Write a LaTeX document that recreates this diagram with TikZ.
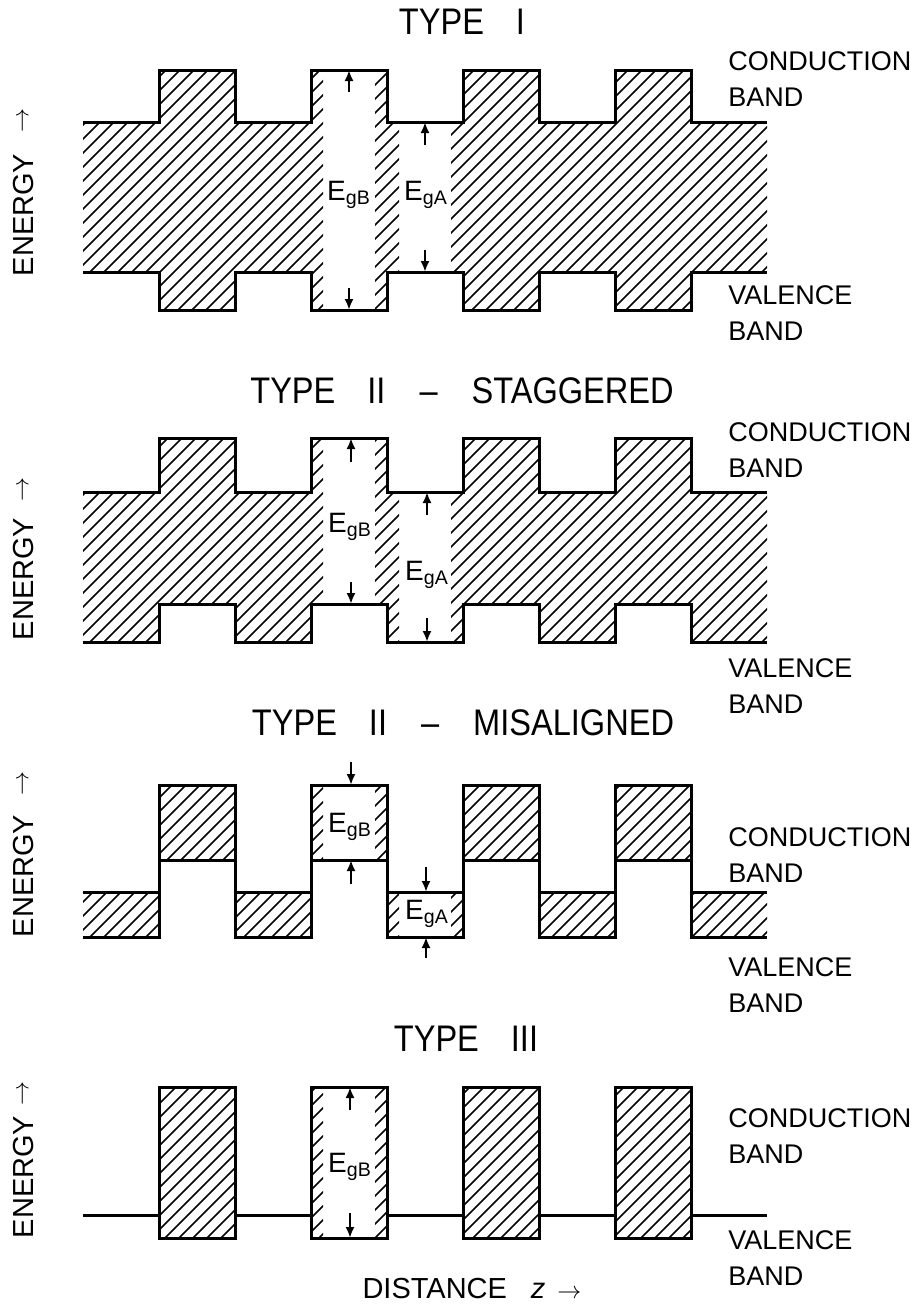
\documentclass[tikz,border=0pt]{standalone}
\usepackage{fontspec}
\setmainfont{Liberation Sans}
\newfontfamily\titlefont[FakeStretch=0.88]{Liberation Sans}
\usetikzlibrary{arrows.meta}

% one band diagram: #1 CB in A, #2 CB in B, #3 VB in A, #4 VB in B
\newcommand{\bandpanel}[4]{%
  \begin{scope}
    \clip (83,#1) rectangle (159,#3) (159,#2) rectangle (235,#4)
      (235,#1) rectangle (311,#3)
      (311,#2) rectangle (323,#4) (375,#2) rectangle (387,#4)
      (387,#1) rectangle (399,#3) (451,#1) rectangle (463,#3)
      (463,#2) rectangle (539,#4) (539,#1) rectangle (615,#3)
      (615,#2) rectangle (691,#4) (691,#1) rectangle (767,#3);
    \foreach \k in {0,...,80}
      \draw[hatchline] (-300+14*\k,#3+40) -- ++(300,-300);
  \end{scope}
  \draw[bandedge] (83,#1) -| (159,#2) -| (235,#1) -| (311,#2) -| (387,#1)
    -| (463,#2) -| (539,#1) -| (615,#2) -| (691,#1) -- (767,#1);
  \draw[bandedge] (83,#3) -| (159,#4) -| (235,#3) -| (311,#4) -| (387,#3)
    -| (463,#4) -| (539,#3) -| (615,#4) -| (691,#3) -- (767,#3);
}

\begin{document}
\begin{tikzpicture}[x=0.5pt,y=-0.5pt,
  bandedge/.style={line width=1.5pt},
  hatchline/.style={line width=0.8pt},
  gaparrow/.style={-{Latex[length=5.5pt,width=4.5pt]},line width=1.1pt},
  ttl/.style={font={\titlefont\fontsize{18.5}{20}\selectfont}},
  bandlbl/.style={anchor=west,align=left,inner sep=0pt,
                  font={\fontsize{13.5}{18}\selectfont}},
  egap/.style={inner sep=0pt,font={\fontsize{14}{16}\selectfont}},
  nrg/.style={rotate=90,font={\fontsize{14.5}{16}\selectfont}},
  nrgarrow/.style={rotate=90,font={\fontsize{13}{14}\selectfont}}]
\useasboundingbox (0,0) rectangle (922,1306);

% type I
\node[ttl] (t1) at (462,22) {TYPE\hspace{16pt}I};
\bandpanel{122}{70}{272}{310}
\draw[gaparrow] (349,92) -- (349,70);
\draw[gaparrow] (349,288) -- (349,310);
\draw[gaparrow] (425,145) -- (425,122);
\draw[gaparrow] (425,250) -- (425,272);
\node[egap] (gb1) at (349,195) {E\textsubscript{gB}};
\node[egap] (ga1) at (426,195) {E\textsubscript{gA}};
\node[bandlbl] (cb1) at (728,79) {CONDUCTION\\BAND};
\node[bandlbl] (vb1) at (728,313) {VALENCE\\BAND};
\node[nrg] (en1) at (24,215) {ENERGY};
\node[nrgarrow] (up1) at (24,120) {$\rightarrow$};

% type II staggered
\node[ttl] (t2) at (462,391) {TYPE\hspace{16pt}II\hspace{17pt}\textendash\hspace{17pt}STAGGERED};
\bandpanel{492}{438}{642}{604}
\draw[gaparrow] (351,462) -- (351,438);
\draw[gaparrow] (351,582) -- (351,604);
\draw[gaparrow] (427,515) -- (427,492);
\draw[gaparrow] (427,618) -- (427,642);
\node[egap] (gb2) at (350,527) {E\textsubscript{gB}};
\node[egap] (ga2) at (427,575) {E\textsubscript{gA}};
\node[bandlbl] (cb2) at (728,450) {CONDUCTION\\BAND};
\node[bandlbl] (vb2) at (728,686) {VALENCE\\BAND};
\node[nrg] (en2) at (24,579) {ENERGY};
\node[nrgarrow] (up2) at (24,489) {$\rightarrow$};

% type II misaligned
\node[ttl] (t3) at (463,723) {TYPE\hspace{16pt}II\hspace{17pt}\textendash\hspace{17pt}MISALIGNED};
\bandpanel{892}{785}{937}{860}
\draw[gaparrow] (351,762) -- (351,785);
\draw[gaparrow] (351,884) -- (351,860);
\draw[gaparrow] (426,867) -- (426,892);
\draw[gaparrow] (426,958) -- (426,937);
\node[egap] (gb3) at (350,827) {E\textsubscript{gB}};
\node[egap] (ga3) at (427,914) {E\textsubscript{gA}};
\node[bandlbl] (cb3) at (728,855) {CONDUCTION\\BAND};
\node[bandlbl] (vb3) at (728,985) {VALENCE\\BAND};
\node[nrg] (en3) at (24,876) {ENERGY};
\node[nrgarrow] (up3) at (24,783) {$\rightarrow$};

% type III
\node[ttl] (t4) at (466,1039) {TYPE\hspace{16pt}III};
\bandpanel{1215}{1087}{1215}{1238}
\draw[gaparrow] (350,1110) -- (350,1087);
\draw[gaparrow] (350,1213) -- (350,1238);
\node[egap] (gb4) at (350,1167) {E\textsubscript{gB}};
\node[bandlbl] (cb4) at (728,1136) {CONDUCTION\\BAND};
\node[bandlbl] (vb4) at (728,1258) {VALENCE\\BAND};
\node[nrg] (en4) at (24,1177) {ENERGY};
\node[nrgarrow] (up4) at (24,1093) {$\rightarrow$};

\node[font={\fontsize{14.5}{16}\selectfont}] (dist) at (472,1289)
  {DISTANCE\hspace{12pt}\textit{z}\hspace{6pt}{\fontsize{13}{13}\selectfont$\rightarrow$}};
\end{tikzpicture}
\end{document}
